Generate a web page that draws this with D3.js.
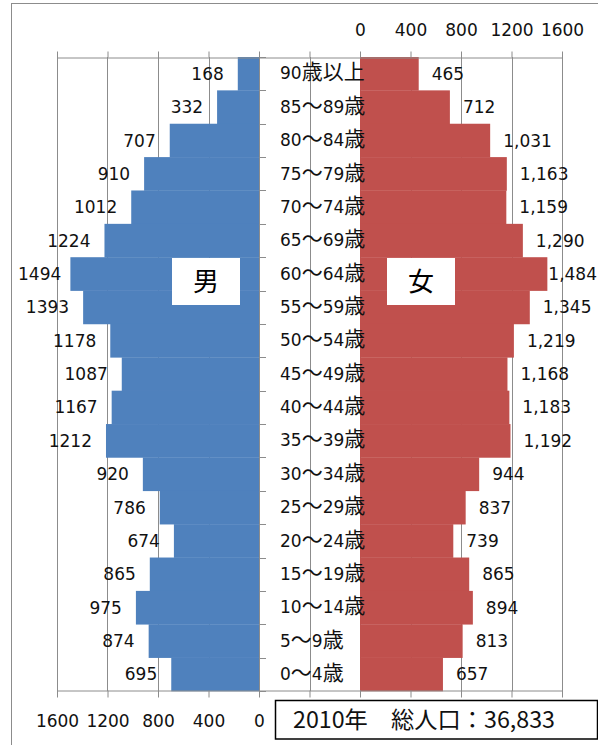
<!DOCTYPE html>
<html>
<head>
<meta charset="utf-8">
<script src="https://cdn.jsdelivr.net/npm/d3@7"></script>
<style>
html,body{margin:0;padding:0;background:#fff;}
svg{display:block;}
</style>
</head>
<body>
<svg id="chart" width="598" height="745"></svg>
<script>
// ---- data ----
const categories = ["90歳以上","85〜89歳","80〜84歳","75〜79歳","70〜74歳","65〜69歳","60〜64歳","55〜59歳","50〜54歳","45〜49歳","40〜44歳","35〜39歳","30〜34歳","25〜29歳","20〜24歳","15〜19歳","10〜14歳","5〜9歳","0〜4歳"];
const maleValues = [168,332,707,910,1012,1224,1494,1393,1178,1087,1167,1212,920,786,674,865,975,874,695];
const femaleValues = [465,712,1031,1163,1159,1290,1484,1345,1219,1168,1183,1192,944,837,739,865,894,813,657];
const leftTicks = [1600,1200,800,400,0,-400];
const rightTicks = [-400,0,400,800,1200,1600];
const maleLabel = "男";
const femaleLabel = "女";
const titleText = "2010年　総人口：36,833";

// ---- layout ----
const svg = d3.select("#chart");
const W = 598, H = 745;
const plotTop = 57, plotBottom = 691;
const xL = d3.scaleLinear().domain([1600,-400]).range([57,309.5]);
const xR = d3.scaleLinear().domain([-400,1600]).range([309.5,562]);
const y = d3.scaleBand().domain(categories).range([plotTop,plotBottom]).padding(0);

const gridColor = "#8c8c8c";
const numFont = "'DejaVu Sans', sans-serif";
const cjkFont = "'Noto Sans CJK JP', sans-serif";

// outer frame
svg.append("rect").attr("x",11.5).attr("y",3.5).attr("width",700).attr("height",800)
  .attr("fill","none").attr("stroke","#8c8c8c").attr("stroke-width",1);

// gridlines
const grid = svg.append("g");
grid.selectAll("line.gl").data(leftTicks).join("line")
  .attr("x1",d=>Math.round(xL(d))+0.5).attr("x2",d=>Math.round(xL(d))+0.5)
  .attr("y1",plotTop).attr("y2",plotBottom)
  .attr("stroke",gridColor).attr("stroke-width",1);
grid.selectAll("line.gr").data(rightTicks.filter(d=>d>-400)).join("line")
  .attr("class","gr")
  .attr("x1",d=>Math.round(xR(d))+0.5).attr("x2",d=>Math.round(xR(d))+0.5)
  .attr("y1",plotTop).attr("y2",plotBottom)
  .attr("stroke",gridColor).attr("stroke-width",1);

// category tick marks on male axis (at band boundaries)
const bounds = categories.map(c=>y(c)).concat([plotBottom]);
svg.append("g").selectAll("line").data(bounds).join("line")
  .attr("x1",xL(0)).attr("x2",xL(0)+7)
  .attr("y1",d=>Math.round(d)+0.5).attr("y2",d=>Math.round(d)+0.5)
  .attr("stroke",gridColor).attr("stroke-width",1);

// bars
svg.append("g").selectAll("rect").data(maleValues).join("rect")
  .attr("x",d=>xL(d)).attr("width",d=>xL(0)-xL(d))
  .attr("y",(d,i)=>y(categories[i])).attr("height",y.bandwidth()+0.3)
  .attr("fill","#4F81BD");
svg.append("g").selectAll("rect").data(femaleValues).join("rect")
  .attr("x",xR(0)).attr("width",d=>xR(d)-xR(0))
  .attr("y",(d,i)=>y(categories[i])).attr("height",y.bandwidth()+0.3)
  .attr("fill","#C0504D");

// axes
function styleAxis(g){
  g.selectAll("path.domain").attr("stroke",gridColor);
  g.selectAll(".tick line").attr("stroke",gridColor);
  g.selectAll(".tick text").attr("font-family",numFont).attr("font-size","17px").attr("fill","#111");
}
const topL = svg.append("g").attr("transform",`translate(0,${plotTop+0.5})`)
  .call(d3.axisTop(xL).tickValues(leftTicks.filter(d=>d>=0)).tickSize(6).tickSizeOuter(0).tickFormat(""));
styleAxis(topL);
const topR = svg.append("g").attr("transform",`translate(0,${plotTop+0.5})`)
  .call(d3.axisTop(xR).tickValues(rightTicks).tickSize(6).tickSizeOuter(0).tickPadding(16)
    .tickFormat(d=>d<0?"":d3.format("d")(d)));
styleAxis(topR);
const botL = svg.append("g").attr("transform",`translate(0,${plotBottom-0.5})`)
  .call(d3.axisBottom(xL).tickValues(leftTicks).tickSize(7).tickSizeOuter(0).tickPadding(17)
    .tickFormat(d=>d<0?"":d3.format("d")(d)));
styleAxis(botL);
const botR = svg.append("g").attr("transform",`translate(0,${plotBottom-0.5})`)
  .call(d3.axisBottom(xR).tickValues(rightTicks.filter(d=>d>=0)).tickSize(7).tickSizeOuter(0).tickFormat(""));
styleAxis(botR);

// data labels (kept inside chart area like the original)
svg.append("g").selectAll("text").data(maleValues).join("text")
  .attr("y",(d,i)=>y(categories[i])+y.bandwidth()/2)
  .attr("dy","0.36em").attr("text-anchor","start")
  .attr("font-family",numFont).attr("font-size","17px").attr("fill","#111")
  .text(d=>d3.format("d")(d))
  .attr("x",function(d){ const w=this.getComputedTextLength(); return Math.max(18, xL(d)-14-w); });
svg.append("g").selectAll("text").data(femaleValues).join("text")
  .attr("y",(d,i)=>y(categories[i])+y.bandwidth()/2)
  .attr("dy","0.36em").attr("text-anchor","start")
  .attr("font-family",numFont).attr("font-size","17px").attr("fill","#111")
  .text(d=>d3.format(",")(d))
  .attr("x",function(d){ const w=this.getComputedTextLength(); return Math.min(xR(d)+13, 597-w); });

// category labels (mixed fonts)
const catG = svg.append("g");
categories.forEach(c=>{
  const t = catG.append("text").attr("x",280).attr("y",y(c)+y.bandwidth()/2).attr("dy","0.36em")
    .attr("fill","#111");
  (c.match(/[\x00-\x7F]+|[^\x00-\x7F]+/g)||[]).forEach(part=>{
    const ascii = /^[\x00-\x7F]+$/.test(part);
    t.append("tspan").attr("font-family",ascii?numFont:cjkFont)
      .attr("font-size",ascii?"17px":"21px").text(part);
  });
});

// sex label boxes
function sexBox(cx, label){
  svg.append("rect").attr("x",cx-34).attr("y",258).attr("width",68).attr("height",47).attr("fill","#fff");
  svg.append("text").attr("x",cx).attr("y",281.5).attr("dy","0.36em").attr("text-anchor","middle")
    .attr("font-family",cjkFont).attr("font-size","26px").attr("fill","#000").text(label);
}
sexBox(206, maleLabel);
sexBox(421, femaleLabel);

// title box
svg.append("rect").attr("x",275.5).attr("y",700.5).attr("width",322).attr("height",38.5)
  .attr("fill","#fff").attr("stroke","#000").attr("stroke-width",1.5);
svg.append("text").attr("x",293).attr("y",719.5).attr("dy","0.36em")
  .attr("font-family",cjkFont).attr("font-size","23px").attr("fill","#111")
  .attr("textLength",262).attr("lengthAdjust","spacingAndGlyphs")
  .text(titleText);
</script>
</body>
</html>
